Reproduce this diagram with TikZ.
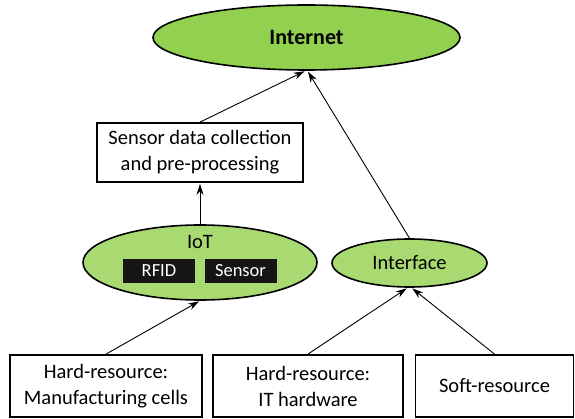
\documentclass[tikz,border=0pt]{standalone}
\usepackage{fontspec}
\setmainfont{Carlito}
\usetikzlibrary{shapes.geometric,arrows.meta}
\definecolor{gdark}{HTML}{92D050}
\definecolor{glight}{HTML}{A9D971}
\definecolor{tagbg}{HTML}{151515}
\begin{document}
\begin{tikzpicture}[x=1pt,y=-1pt,
  txt/.style={font=\fontsize{20.5}{26}\selectfont,align=center},
  oval/.style={ellipse,draw=black,line width=1.6pt,inner sep=0pt,txt},
  rbox/.style={draw=black,line width=1.8pt,inner sep=0pt,txt},
  tag/.style={fill=tagbg,text=white,inner sep=0pt,minimum width=72pt,minimum height=24pt,font=\fontsize{18.5}{22}\selectfont},
  arr/.style={-{Stealth[length=11pt,width=7pt]},line width=0.9pt,shorten >=1pt}]
\useasboundingbox (0,0) rectangle (575,419);
\node[oval,fill=gdark,minimum width=307pt,minimum height=65pt,font=\fontsize{22}{26}\selectfont\bfseries] (inet) at (306.5,37.5) {Internet};
\node[rbox,minimum width=206pt,minimum height=59pt] (sdc) at (200,152.5) {Sensor data collection\\and pre-processing};
\node[oval,fill=glight,minimum width=234pt,minimum height=75pt] (iot) at (200,262.5) {};
\node[txt] (iotl) at (200,242) {IoT};
\node[tag] (rfid) at (159,271) {RFID};
\node[tag] (sens) at (240.5,271) {Sensor};
\node[oval,fill=glight,minimum width=155pt,minimum height=48pt] (intf) at (409.5,263) {Interface};
\node[rbox,minimum width=192pt,minimum height=62pt] (b1) at (106,386) {Hard-resource:\\Manufacturing cells};
\node[rbox,minimum width=190pt,minimum height=62pt] (b2) at (308,386) {Hard-resource:\\IT hardware};
\node[rbox,minimum width=158pt,minimum height=62pt] (b3) at (494.5,386) {Soft-resource};
\draw[arr] (sdc.north) -- ([xshift=-1pt]inet.south);
\draw[arr] (intf.north) -- ([xshift=1pt]inet.south);
\draw[arr] (iot.north) -- (sdc.south);
\draw[arr] (b1.north) -- (iot.south);
\draw[arr] (b2.north) -- ([xshift=-2pt]intf.south);
\draw[arr] (b3.north) -- ([xshift=2pt]intf.south);
\end{tikzpicture}
\end{document}
